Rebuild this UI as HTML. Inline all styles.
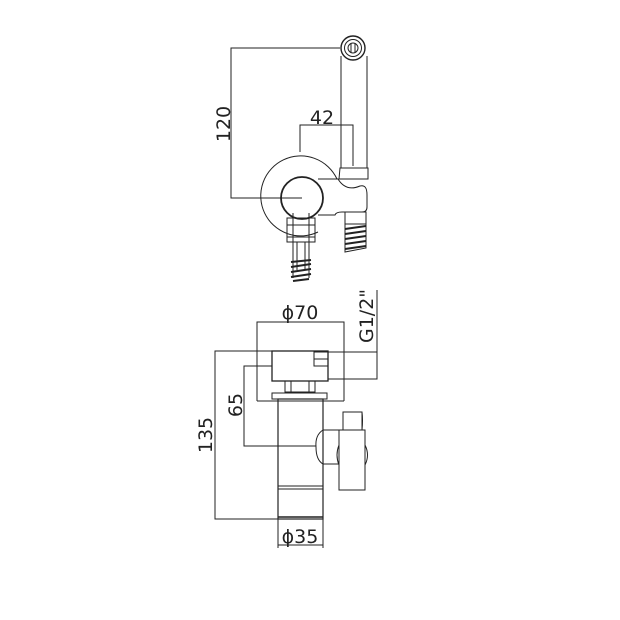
<!DOCTYPE html>
<html><head><style>body{margin:0;background:#fff}svg{display:block}</style></head><body>
<svg width="620" height="620" viewBox="0 0 620 620" xmlns="http://www.w3.org/2000/svg" font-family="DejaVu Sans, Liberation Sans, sans-serif">
<g fill="none" stroke="#222" stroke-width="1">
<polyline points="340,48 231,48 231,198 298,198"/>
<polyline points="300,152 300,125 353,125 353,166"/>
<line x1="341" y1="56" x2="341" y2="168"/>
<line x1="367" y1="56" x2="367" y2="168"/>
<circle cx="353" cy="48" r="12" stroke-width="1.4"/>
<circle cx="353" cy="48" r="8.5"/>
<circle cx="353" cy="48" r="5"/>
<line x1="351" y1="43" x2="351" y2="53"/><line x1="355" y1="43" x2="355" y2="53"/>
<path d="M318,232 A40,40 0 1 1 337,179" />
<circle cx="302" cy="198" r="21" stroke-width="1.8"/>
<line x1="302" y1="198" x2="270" y2="198"/>
<path d="M340,168 L368,168 L368,179 L339,179 Z"/>
<path d="M318,179 L338,179 Q346,192 360,186 Q367,184 367,195 L367,207 Q367,212 362,212 L342,212 Q336,212 335,215 L318,215"/>
<rect x="345" y="212" width="21" height="12"/>
<path d="M345,224 L345,252 L366,248 L366,224"/>
<path d="M345,229 L366,226 M345,234 L366,231 M345,239 L366,236 M345,244 L366,241 M345,249 L366,246" stroke-width="2"/>
<rect x="287" y="218" width="28" height="24"/>
<line x1="287" y1="225" x2="315" y2="225"/>
<line x1="287" y1="237" x2="315" y2="237"/>
<line x1="293" y1="213" x2="293" y2="278"/><line x1="309" y1="213" x2="309" y2="278"/>
<line x1="297" y1="242" x2="297" y2="270"/><line x1="305" y1="242" x2="305" y2="270"/>
<path d="M291,262 L311,260 M291,267 L311,264 M291,272 L311,269 M291,277 L311,274 M293,281 L309,279" stroke-width="2"/>

<polyline points="257,401 257,322 344,322 344,401"/>
<line x1="257" y1="401" x2="344" y2="401"/>
<polyline points="272,351 215,351 215,519 278,519"/>
<polyline points="272,366 244,366 244,446 316,446"/>
<polyline points="377,290 377,379 328,379"/>
<line x1="328" y1="352" x2="377" y2="352"/>
<line x1="278" y1="519" x2="278" y2="548"/><line x1="323" y1="519" x2="323" y2="548"/>
<line x1="278" y1="545" x2="323" y2="545"/>
<rect x="272" y="351" width="56" height="30" stroke-width="1.3"/>
<rect x="314" y="352" width="14" height="14"/>
<line x1="314" y1="359" x2="328" y2="359"/>
<rect x="285" y="381" width="30" height="11"/>
<line x1="291" y1="381" x2="291" y2="392"/><line x1="309" y1="381" x2="309" y2="392"/>
<rect x="272" y="393" width="55" height="6"/>
<rect x="278" y="399" width="45" height="120" stroke-width="1.2"/>
<line x1="278" y1="486" x2="323" y2="486"/>
<line x1="278" y1="489" x2="323" y2="489"/>
<line x1="278" y1="517" x2="323" y2="517" stroke-width="1.5"/>
<path d="M339,430 L323,430 Q315,435 316,447 Q316,460 323,464 L339,464"/>
<rect x="343" y="412" width="19" height="18"/>
<path d="M362,412 Q363,420 362,430"/>
<rect x="339" y="430" width="26" height="60"/>
<path d="M339,445 Q335,455 339,465 M365,445 Q370,455 365,465"/>
</g>
<g fill="#222" font-size="19">
<text x="322" y="124" text-anchor="middle">42</text>
<text transform="translate(230,124) rotate(-90)" text-anchor="middle">120</text>
<text x="300" y="319" text-anchor="middle">ϕ70</text>
<text transform="translate(373,316) rotate(-90)" text-anchor="middle">G1/2"</text>
<text transform="translate(242,405) rotate(-90)" text-anchor="middle">65</text>
<text transform="translate(212,435) rotate(-90)" text-anchor="middle">135</text>
<text x="300" y="543" text-anchor="middle">ϕ35</text>
</g>
</svg>
</body></html>
